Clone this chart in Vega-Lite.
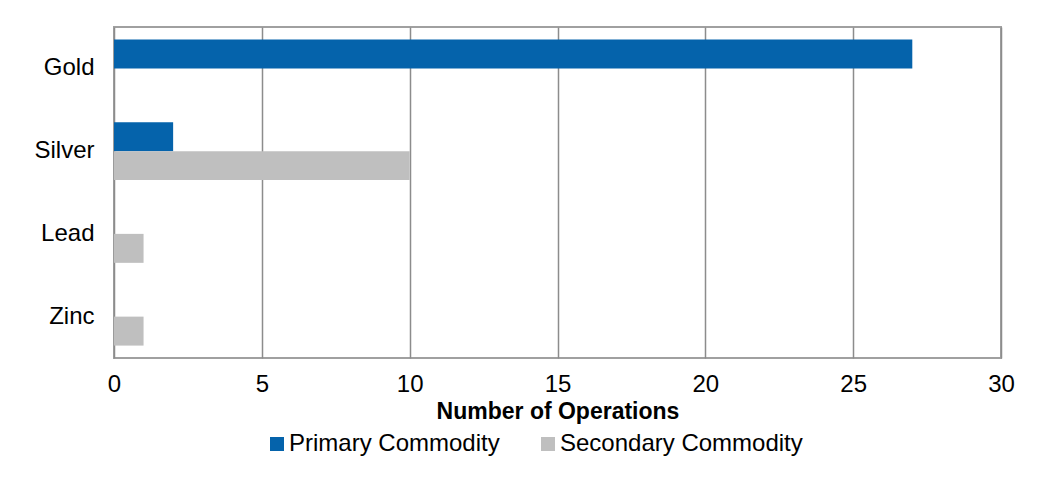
{
  "$schema": "https://vega.github.io/schema/vega-lite/v6.json",
  "width": 887,
  "height": 331,
  "autosize": {"type": "none"},
  "padding": {"left": 114, "top": 27, "right": 36, "bottom": 120},
  "background": "white",
  "config": {
    "font": "Liberation Sans",
    "view": {"stroke": "#A0A0A0", "strokeWidth": 2},
    "axis": {"labelColor": "#000000", "titleColor": "#000000"}
  },
  "data": {
    "values": [
      {"metal": "Gold", "type": "Primary Commodity", "count": 27},
      {"metal": "Silver", "type": "Primary Commodity", "count": 2},
      {"metal": "Silver", "type": "Secondary Commodity", "count": 10},
      {"metal": "Lead", "type": "Secondary Commodity", "count": 1},
      {"metal": "Zinc", "type": "Secondary Commodity", "count": 1}
    ]
  },
  "mark": {"type": "bar"},
  "encoding": {
    "y": {
      "field": "metal",
      "type": "nominal",
      "sort": ["Gold", "Silver", "Lead", "Zinc"],
      "scale": {"paddingInner": 0.3, "paddingOuter": 0.15},
      "axis": {
        "title": null,
        "domain": false,
        "ticks": false,
        "labelFontSize": 24,
        "labelPadding": 20,
        "labelAlign": "right"
      }
    },
    "yOffset": {
      "field": "type",
      "type": "nominal",
      "scale": {"domain": ["Primary Commodity", "Secondary Commodity"], "paddingInner": 0, "paddingOuter": 0}
    },
    "x": {
      "field": "count",
      "type": "quantitative",
      "scale": {"domain": [0, 30], "nice": false},
      "axis": {
        "title": "Number of Operations",
        "values": [0, 5, 10, 15, 20, 25, 30],
        "domain": false,
        "ticks": false,
        "grid": true,
        "gridColor": "#8C8C8C",
        "gridWidth": 1.5,
        "labelFlush": false,
        "labelFontSize": 24,
        "labelPadding": 14,
        "titleFontSize": 23,
        "titleFontWeight": "bold",
        "titlePadding": 4
      }
    },
    "color": {
      "field": "type",
      "type": "nominal",
      "scale": {"domain": ["Primary Commodity", "Secondary Commodity"], "range": ["#0563AB", "#BFBFBF"]},
      "legend": {
        "title": null,
        "orient": "none",
        "direction": "horizontal",
        "legendX": 151,
        "legendY": 405,
        "symbolType": "square",
        "symbolSize": 196,
        "symbolStrokeWidth": 0,
        "symbolOpacity": 1,
        "labelFontSize": 24,
        "labelColor": "#000000",
        "labelOffset": 0,
        "columnPadding": 36,
        "labelLimit": 400
      }
    }
  }
}
